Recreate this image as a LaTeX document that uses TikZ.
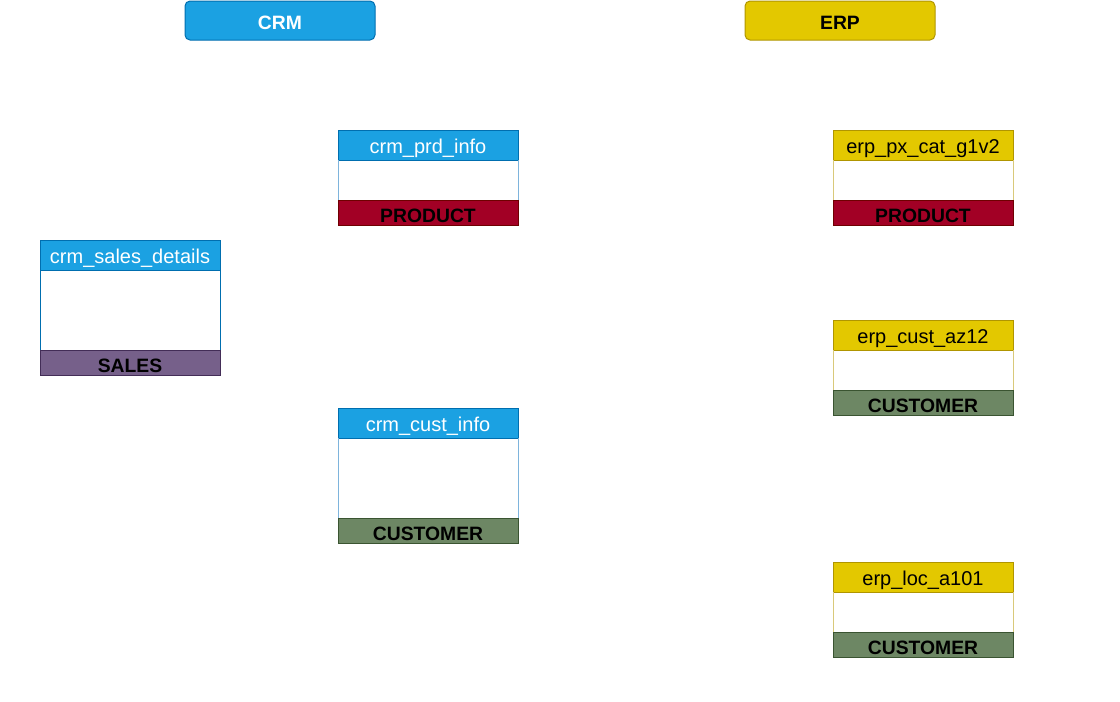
\documentclass[tikz,border=0pt]{standalone}
\usepackage{fontspec}
\setmainfont{Liberation Sans}
\usetikzlibrary{positioning}

\definecolor{crmblue}{HTML}{1BA1E2}
\definecolor{crmline}{HTML}{006EAF}
\definecolor{crmside}{HTML}{7EB4DC}
\definecolor{erpyellow}{HTML}{E3C800}
\definecolor{erpline}{HTML}{B09500}
\definecolor{erpside}{HTML}{D9C97A}
\definecolor{prodred}{HTML}{A20025}
\definecolor{prodline}{HTML}{6F0000}
\definecolor{salespurple}{HTML}{76608A}
\definecolor{salesline}{HTML}{432D57}
\definecolor{custgreen}{HTML}{6D8764}
\definecolor{custline}{HTML}{3A5431}

\tikzset{
    system/.style={rounded corners=3.75pt, line width=0.75pt, minimum width=142.5pt,
        minimum height=29.25pt, inner sep=0pt, outer sep=0pt, text height=13pt, text depth=0pt,
        font=\fontsize{14.5}{17}\selectfont\bfseries},
    crm head/.style={fill=crmblue, draw=crmline, text=white},
    erp head/.style={fill=erpyellow, draw=erpline, text=black},
    head/.style={line width=0.75pt, minimum width=135pt, minimum height=22.5pt,
        inner sep=0pt, outer sep=0pt, text height=12.5pt, text depth=0pt,
        font=\fontsize{15}{18}\selectfont},
    body/.style={minimum width=135pt, inner sep=0pt, outer sep=0pt},
    tag/.style={line width=0.75pt, minimum width=135pt, minimum height=18.75pt,
        inner sep=0pt, outer sep=0pt, text height=14.5pt, text depth=0pt,
        font=\fontsize{14.5}{17}\selectfont\bfseries},
    PRODUCT/.style={fill=prodred, draw=prodline},
    SALES/.style={fill=salespurple, draw=salesline},
    CUSTOMER/.style={fill=custgreen, draw=custline}
}

\begin{document}
\begin{tikzpicture}[x=0.75pt, y=-0.75pt, node distance=0pt]
    \useasboundingbox (0,0) rectangle (1120,701);

    % Systems
    \node[system, crm head] (crm) at (280,20.5) {CRM};
    \node[system, erp head] (erp) at (840,20.5) {ERP};

    % Tables: name/x/top/body/system/side/tag/title
    \foreach \tab/\x/\y/\h/\sys/\side/\tag/\title in {
        crmprd/428/130/40/crm/crmside/PRODUCT/crm\_prd\_info,
        crmsales/130/240/80/crm/crmline/SALES/crm\_sales\_details,
        crmcust/428/408/80/crm/crmside/CUSTOMER/crm\_cust\_info,
        erppx/923/130/40/erp/erpside/PRODUCT/erp\_px\_cat\_g1v2,
        erpcust/923/320/40/erp/erpside/CUSTOMER/erp\_cust\_az12,
        erploc/923/562/40/erp/erpside/CUSTOMER/erp\_loc\_a101} {
        \node[head, \sys\space head, anchor=north] (\tab) at (\x,\y) {\title};
        \node[body, minimum height=\h*0.75pt, below=of \tab] (\tab-body) {};
        \draw[line width=0.75pt, \side] (\tab-body.north west) -- (\tab-body.south west)
            (\tab-body.north east) -- (\tab-body.south east);
        \node[tag, \tag, below=of \tab-body] (\tab-tag) {\tag};
    }

\end{tikzpicture}
\end{document}
